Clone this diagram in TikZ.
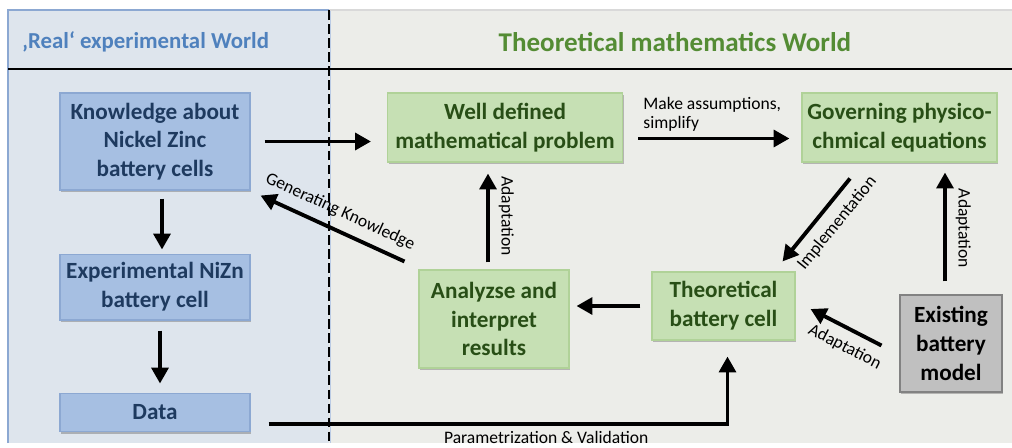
\documentclass[tikz,border=0pt]{standalone}
\usepackage{fontspec}
\setmainfont{Carlito}
\usepackage{tikz}
\usetikzlibrary{positioning,arrows.meta,shadows}

\definecolor{realbg}{RGB}{222,229,237}
\definecolor{theobg}{RGB}{236,237,233}
\definecolor{realtitle}{RGB}{79,129,189}
\definecolor{theotitle}{RGB}{84,140,52}
\definecolor{bluefill}{RGB}{166,191,226}
\definecolor{blueline}{RGB}{140,168,210}
\definecolor{bluetext}{RGB}{30,58,95}
\definecolor{greenfill}{RGB}{198,224,180}
\definecolor{greenline}{RGB}{176,210,152}
\definecolor{greentext}{RGB}{40,78,22}
\definecolor{grayfill}{RGB}{192,192,192}
\definecolor{grayline}{RGB}{130,130,130}

\begin{document}
\begin{tikzpicture}[
        x=0.02cm, y=-0.02cm,
        box/.style={draw, line width=0.6pt, align=center, inner sep=2pt,
                    font=\fontsize{13.2}{16.4}\selectfont\bfseries,
                    drop shadow={shadow xshift=0.8pt, shadow yshift=-1.4pt, opacity=0.35, fill=black!70}},
        bbox/.style={box, fill=bluefill, draw=blueline, text=bluetext, minimum width=3.8cm},
        gbox/.style={box, fill=greenfill, draw=greenline, text=greentext},
        xbox/.style={box, fill=grayfill, draw=grayline, text=black},
        title/.style={font=\bfseries},
        lbl/.style={font=\fontsize{10}{11}\selectfont, inner sep=2pt},
        slbl/.style={lbl, inner ysep=5pt},
        flow/.style={-{Triangle[length=9pt,width=9.5pt]}, line width=2.2pt},
        flowrev/.style={{Triangle[length=9pt,width=9.5pt]}-, line width=2.2pt},
    ]
        \useasboundingbox (0,0) rectangle (1012,447);

        % the two worlds
        \fill[realbg] (8,10) rectangle (329,443);
        \fill[theobg] (329,10) rectangle (1012,443);
        \draw[blueline, line width=0.8pt] (8,443) -- (8,10) -- (329,10);
        \draw[blueline!60, line width=0.8pt] (330.5,10) -- (330.5,443);
        \draw[black!15, line width=0.8pt] (329,10) -- (1012,10);
        \draw[line width=1.4pt] (8,69) -- (1012,69);
        \draw[line width=1.4pt, dash pattern=on 5.5pt off 2.5pt] (329,10) -- (329,443);

        \node[title, font=\fontsize{13}{16}\selectfont\bfseries, text=realtitle, anchor=west] (realttl) at (16,42) {‚Real‘ experimental World};
        \node[title, font=\fontsize{15.4}{18}\selectfont\bfseries, text=theotitle] (theottl) at (675,42) {Theoretical mathematics World};

        % experimental side
        \node[bbox, minimum height=1.94cm] (know) at (155,141.5) {Knowledge about\\Nickel Zinc\\battery cells};
        \node[bbox, minimum height=1.32cm, below=1.26cm of know] (exp) {Experimental NiZn\\battery cell};
        \node[bbox, minimum height=0.76cm, below=1.44cm of exp] (data) {Data};

        % theoretical side
        \node[gbox, minimum width=4.7cm, minimum height=1.38cm] (well) at (505,127.5) {Well defined\\mathematical problem};
        \node[gbox, minimum width=3.9cm, minimum height=1.38cm] (gov) at (899.5,127.5) {Governing physico-\\chmical equations};
        \node[gbox, minimum width=3.0cm, minimum height=1.96cm] (anal) at (494,319) {Analyzse and\\interpret\\results};
        \node[gbox, minimum width=2.86cm, minimum height=1.36cm] (theo) at (723.5,306) {Theoretical\\battery cell};
        \node[xbox, minimum width=2.04cm, minimum height=1.94cm] (exist) at (951,343.5) {Existing\\battery\\model};

        % connectors
        \draw[flow, shorten <=0.28cm, shorten >=0.32cm] (know.east) -- (know.east -| well.west);
        \draw[flow, shorten <=0.16cm, shorten >=0.08cm] ([xshift=0.14cm]know.south) -- ([xshift=0.14cm]exp.north);
        \draw[flow, shorten <=0.2cm, shorten >=0.18cm] ([xshift=0.1cm]exp.south) -- ([xshift=0.1cm]data.north);
        \draw[flow, shorten <=0.36cm, shorten >=0.32cm] ([yshift=-0.24cm]data.east) -| ([xshift=0.08cm]theo.south)
            node[lbl, pos=0.31, below=1pt] {Parametrization \& Validation};
        \draw[flow, shorten <=0.3cm, shorten >=0.24cm] ([yshift=-0.22cm]well.east) -- ([yshift=-0.22cm]well.east -| gov.west)
            node[lbl, midway, above=1pt, align=left] {Make assumptions,\\simplify};
        \draw[flow, shorten <=0.14cm, shorten >=0.22cm] ([xshift=-0.12cm]anal.north) -- ([xshift=-0.12cm]anal.north |- well.south)
            node[slbl, midway, rotate=-90, anchor=south] {Adaptation};
        \draw[flow, shorten <=0.22cm, shorten >=0.14cm] (theo.west) -- (theo.west -| anal.east);
        \draw[flowrev] ([xshift=-0.26cm, yshift=0.2cm]theo.north east) -- ([xshift=-0.99cm, yshift=-0.32cm]gov.south)
            node[slbl, pos=0.6, sloped, below] {Implementation};
        \draw[flow, shorten <=0.26cm, shorten >=0.2cm] ([xshift=-0.12cm]exist.north) -- ([xshift=-0.12cm]exist.north |- gov.south)
            node[slbl, midway, rotate=-90, anchor=south] {Adaptation};
        \draw[flowrev] ([xshift=0.3cm, yshift=-0.06cm]theo.east) -- ([xshift=-0.36cm, yshift=-0.04cm]exist.west)
            node[slbl, pos=0.6, sloped, below] {Adaptation};
        \draw[flowrev] ([xshift=0.2cm, yshift=-0.1cm]know.south east) -- ([xshift=-0.28cm, yshift=0.16cm]anal.north west)
            node[slbl, midway, sloped, above] {Generating Knowledge};
    \end{tikzpicture}
\end{document}
